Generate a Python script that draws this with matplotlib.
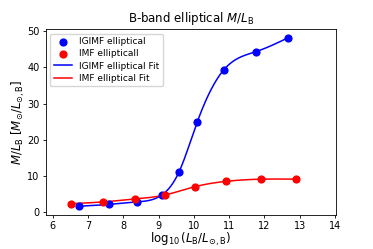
import matplotlib
matplotlib.use("Agg")
import matplotlib.pyplot as plt
import numpy as np

# data
igimf_logL = [6.75, 7.58, 8.38, 9.10, 9.58, 10.09, 10.85, 11.76, 12.68]
igimf_ml = [1.5, 2.0, 2.7, 4.7, 11.1, 24.8, 39.4, 44.4, 48.3]
imf_logL = [6.52, 7.43, 8.32, 9.17, 10.02, 10.91, 11.89, 12.88]
imf_ml = [2.2, 2.7, 3.5, 4.6, 6.9, 8.4, 9.0, 9.0]


def natural_spline(x, y, xs):
    """Natural cubic spline through (x, y), evaluated at xs."""
    x = np.asarray(x, float)
    y = np.asarray(y, float)
    n = len(x)
    h = np.diff(x)
    A = np.zeros((n, n))
    b = np.zeros(n)
    A[0, 0] = A[-1, -1] = 1.0
    for i in range(1, n - 1):
        A[i, i - 1] = h[i - 1]
        A[i, i] = 2 * (h[i - 1] + h[i])
        A[i, i + 1] = h[i]
        b[i] = 6 * ((y[i + 1] - y[i]) / h[i] - (y[i] - y[i - 1]) / h[i - 1])
    m = np.linalg.solve(A, b)
    idx = np.clip(np.searchsorted(x, xs) - 1, 0, n - 2)
    x0, x1 = x[idx], x[idx + 1]
    hh = x1 - x0
    t0, t1 = x1 - xs, xs - x0
    return (m[idx] * t0**3 / (6 * hh) + m[idx + 1] * t1**3 / (6 * hh)
            + (y[idx] / hh - m[idx] * hh / 6) * t0
            + (y[idx + 1] / hh - m[idx + 1] * hh / 6) * t1)


fig = plt.figure(figsize=(3.73, 2.49), dpi=100)
ax = fig.add_axes([0.123, 0.138, 0.778, 0.745])

ax.scatter(igimf_logL, igimf_ml, color="blue", s=24, zorder=3, label="IGIMF elliptical")
ax.scatter(imf_logL, imf_ml, color="red", s=24, zorder=3, label="IMF ellipticall")

xs = np.linspace(min(igimf_logL), max(igimf_logL), 300)
ax.plot(xs, natural_spline(igimf_logL, igimf_ml, xs), color="blue", lw=1.1,
        label="IGIMF elliptical Fit")
xs = np.linspace(min(imf_logL), max(imf_logL), 300)
ax.plot(xs, natural_spline(imf_logL, imf_ml, xs), color="red", lw=1.1,
        label="IMF elliptical Fit")

ax.set_xlim(5.8, 14.03)
ax.set_xticks(range(6, 15))
ax.tick_params(labelsize=7, length=2.5, width=0.6, pad=2)
for s in ax.spines.values():
    s.set_linewidth(0.6)

ax.set_title(r"B-band elliptical $M/L_\mathrm{B}$", fontsize=8.5, pad=5)
ax.set_xlabel(r"$\log_{10}(L_\mathrm{B}/L_{\odot,\mathrm{B}})$", fontsize=8.5, labelpad=0)
ax.set_ylabel(r"$M/L_\mathrm{B}$ [$M_{\odot}/L_{\odot,\mathrm{B}}$]", fontsize=8.5, labelpad=0)
ax.legend(loc="upper left", fontsize=6.5, handlelength=2, borderpad=0.4, labelspacing=0.35)

fig.savefig("out.png", dpi=100)
